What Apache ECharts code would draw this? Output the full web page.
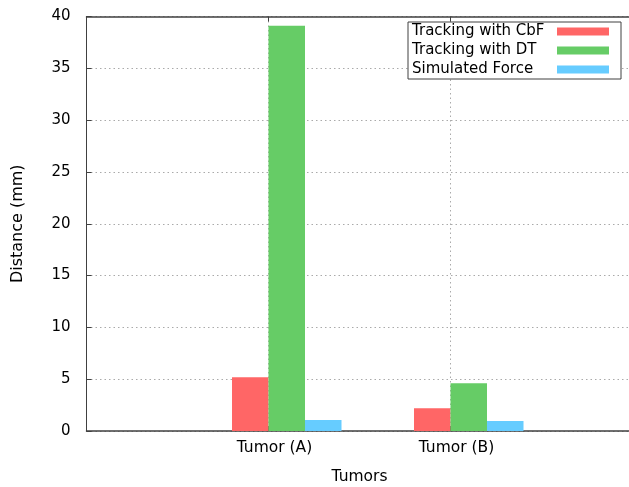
<!DOCTYPE html>
<html style='height: 100%'>
<head>
    <meta charset='utf-8'>
    <script src="https://cdn.jsdelivr.net/npm/echarts@6/dist/echarts.min.js"></script>
</head>
<body style='height: 100%; margin: 0; background: #fff'>
<div id='container' style='width: 629px; height: 487px'></div>
<script type="text/javascript">
// values
var categories = ['Tumor (A)', 'Tumor (B)'];
var trackCbF = [5.18, 2.19];
var trackDT = [39.1, 4.6];
var simForce = [1.06, 0.97];
var yTicks = [0, 5, 10, 15, 20, 25, 30, 35, 40];

var font = 'DejaVu Sans';
var gridLine = { show: true, lineStyle: { color: '#aaaaaa', type: [1.5, 3], width: 1 } };

function pairs(vals) {
    return vals.map(function (v, i) { return [i, v]; });
}
function barSeries(name, vals, color) {
    return {
        name: name,
        type: 'bar',
        data: pairs(vals),
        barWidth: 36.5,
        barGap: '0%',
        itemStyle: { color: color },
        emphasis: { disabled: true }
    };
}

var myChart = echarts.init(document.getElementById('container'));
var option = {
    animation: false,
    textStyle: { fontFamily: font },
    // plot runs a little past the right edge of the canvas, like the original
    grid: { left: 86.5, top: 16.5, width: 546, bottom: 56, outerBoundsMode: 'none', containLabel: false },
    legend: {
        data: ['Tracking with CbF', 'Tracking with DT', 'Simulated Force'],
        orient: 'vertical',
        left: 408,
        top: 22,
        align: 'right',
        icon: 'rect',
        itemWidth: 52,
        itemHeight: 8,
        itemGap: 4,
        padding: [2, 12, 2, 4],
        borderColor: '#404040',
        borderWidth: 1,
        backgroundColor: '#fff',
        selectedMode: false,
        formatter: '{t|{name}}',
        textStyle: {
            fontFamily: font,
            fontSize: 15,
            color: '#000',
            rich: { t: { width: 140, align: 'left', fontSize: 15, fontFamily: font } }
        }
    },
    xAxis: [{
        type: 'value',
        min: -1,
        max: 2,
        interval: 1,
        name: 'Tumors',
        nameLocation: 'middle',
        nameGap: 38,
        nameTextStyle: { fontFamily: font, fontSize: 15.5, color: '#000' },
        axisLine: { show: true, onZero: false, lineStyle: { color: '#404040', width: 1.5 } },
        axisTick: { show: true, inside: true, length: 5, lineStyle: { color: '#404040' } },
        axisLabel: {
            fontFamily: font, fontSize: 15.5, color: '#000', margin: 9,
            padding: [0, 0, 0, 12],
            formatter: function (v) { return categories[v] || ''; }
        },
        splitLine: gridLine
    }, {
        type: 'value',
        position: 'top',
        min: -1,
        max: 2,
        interval: 1,
        axisLine: { show: true, onZero: false, lineStyle: { color: '#404040', width: 1.5 } },
        axisTick: { show: true, inside: true, length: 5, lineStyle: { color: '#404040' } },
        axisLabel: { show: false },
        splitLine: { show: false }
    }],
    yAxis: {
        type: 'value',
        min: yTicks[0],
        max: yTicks[yTicks.length - 1],
        interval: 5,
        name: 'Distance (mm)',
        nameLocation: 'middle',
        nameGap: 61,
        nameTextStyle: { fontFamily: font, fontSize: 16, color: '#000' },
        axisLine: { show: true, onZero: false, lineStyle: { color: '#404040', width: 1 } },
        axisTick: { show: true, inside: true, length: 5, lineStyle: { color: '#404040' } },
        axisLabel: { fontFamily: font, fontSize: 15, color: '#000', margin: 16 },
        splitLine: gridLine
    },
    series: [
        // empty slot so the cluster sits like gnuplot's (tick at left edge of 2nd bar)
        { name: 'pad', type: 'bar', data: [], barWidth: 36.5, barGap: '0%' },
        barSeries('Tracking with CbF', trackCbF, '#ff6666'),
        barSeries('Tracking with DT', trackDT, '#66cc66'),
        barSeries('Simulated Force', simForce, '#66ccff')
    ]
};
myChart.setOption(option);
</script>
</body>
</html>
